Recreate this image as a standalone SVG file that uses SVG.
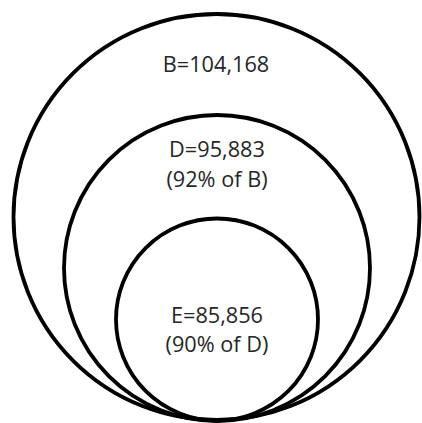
<svg xmlns="http://www.w3.org/2000/svg" width="422" height="423" viewBox="0 0 422 423">
<style>
.c{fill:none;stroke:#000;stroke-width:3.8}
.t{font-family:"Open Sans","Liberation Sans",sans-serif;font-size:21.7px;fill:#262626;text-anchor:middle}
</style>
<rect width="422" height="423" fill="#fff"/>
<g id="B"><circle class="c" cx="216.5" cy="217" r="203"/><text class="t" x="216" y="72">B=104,168</text></g>
<g id="D"><circle class="c" cx="217" cy="268" r="153"/><text class="t" x="217" y="157">D=95,883</text><text class="t" x="217" y="187">(92% of B)</text></g>
<g id="E"><circle class="c" cx="217" cy="319.5" r="101"/><text class="t" x="217" y="323">E=85,856</text><text class="t" x="217" y="352">(90% of D)</text></g>
<g id="connectors"></g>
</svg>
